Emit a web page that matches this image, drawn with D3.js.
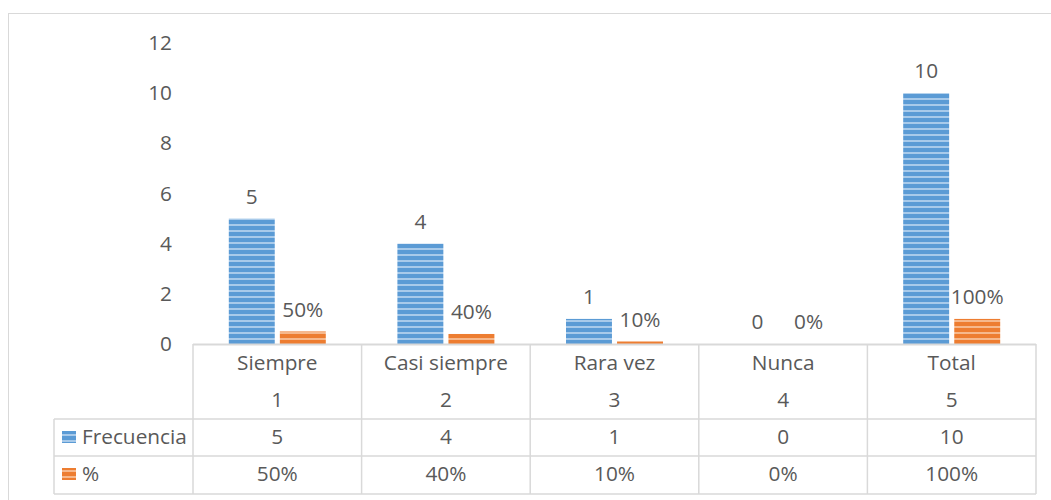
<!DOCTYPE html>
<html>
<head>
<meta charset="utf-8">
<script src="https://cdn.jsdelivr.net/npm/d3@7"></script>
<style>
    body { margin: 0; background: #fff; }
    svg text { font-family: "Open Sans", Lato, sans-serif; fill: #595959; }
</style>
</head>
<body>
<svg id="chart" width="1051" height="500"></svg>
<script>
"use strict";

// chart data
const categories = ["Siempre", "Casi siempre", "Rara vez", "Nunca", "Total"];
const indices = ["1", "2", "3", "4", "5"];
const frecuencia = [5, 4, 1, 0, 10];
const porcentaje = [0.5, 0.4, 0.1, 0, 1];
const porcentajeLabels = ["50%", "40%", "10%", "0%", "100%"];
const yTicks = [0, 2, 4, 6, 8, 10, 12];

(function () {
    const svg = d3.select("#chart");
    const fontSize = 20.8;
    const gridColor = "#d9d9d9";

    const plotLeft = 193, plotRight = 1036;
    const tableLeft = 54;
    const rowLines = [419, 456, 494];

    // striped fills like the original
    const defs = svg.append("defs");
    function stripes(id, dark, light) {
        const p = defs.append("pattern")
            .attr("id", id)
            .attr("patternUnits", "userSpaceOnUse")
            .attr("width", 6).attr("height", 6);
        p.append("rect").attr("width", 6).attr("height", 6).attr("fill", dark);
        p.append("rect").attr("y", 2).attr("width", 6).attr("height", 2).attr("fill", light);
    }
    stripes("blueStripes", "#5b9bd5", "#a8caea");
    stripes("orangeStripes", "#ed7d31", "#f6b88c");

    const series = [
        { name: "Frecuencia", values: frecuencia, labels: frecuencia.map(String), fill: "url(#blueStripes)" },
        { name: "%", values: porcentaje, labels: porcentajeLabels, fill: "url(#orangeStripes)" }
    ];

    // outer chart border (cut off by the picture on the right and bottom)
    svg.append("rect")
        .attr("x", 8.5).attr("y", 13.5)
        .attr("width", 1100).attr("height", 600)
        .attr("fill", "none")
        .attr("stroke", gridColor);

    const y = d3.scaleLinear().domain([0, 12]).range([344, 43]);
    const x0 = d3.scaleBand().domain(categories).range([plotLeft, plotRight]);
    const groupWidth = 97;
    const x1 = d3.scaleBand().domain(series.map(s => s.name))
        .range([0, groupWidth]).paddingInner(0.1);
    const groupStart = c => x0(c) + (x0.bandwidth() - groupWidth) / 2;

    // y axis labels
    const yAxis = svg.append("g")
        .attr("transform", "translate(172,0)")
        .call(d3.axisLeft(y).tickValues(yTicks).tickSize(0).tickPadding(0));
    yAxis.select(".domain").remove();
    yAxis.selectAll("text")
        .attr("font-size", fontSize)
        .attr("font-family", null)
        .attr("fill", null);

    // bars
    series.forEach(s => {
        const g = svg.append("g");
        g.selectAll("rect")
            .data(categories)
            .enter()
            .append("rect")
            .attr("x", c => groupStart(c) + x1(s.name))
            .attr("y", (c, i) => y(s.values[i]))
            .attr("width", x1.bandwidth())
            .attr("height", (c, i) => y(0) - y(s.values[i]))
            .attr("fill", s.fill);

        g.selectAll("text")
            .data(categories)
            .enter()
            .append("text")
            .attr("x", c => groupStart(c) + x1(s.name) + x1.bandwidth() / 2)
            .attr("y", (c, i) => y(s.values[i]) - 22)
            .attr("dy", "0.35em")
            .attr("text-anchor", "middle")
            .attr("font-size", fontSize)
            .text((c, i) => s.labels[i]);
    });

    // table lines
    const lines = svg.append("g")
        .attr("stroke", gridColor)
        .attr("stroke-width", 1.5)
        .attr("fill", "none");
    lines.append("line")
        .attr("x1", plotLeft).attr("x2", plotRight)
        .attr("y1", y(0) + 0.5).attr("y2", y(0) + 0.5)
        .attr("stroke-width", 2);
    rowLines.forEach(ry => {
        lines.append("line")
            .attr("x1", tableLeft).attr("x2", plotRight)
            .attr("y1", ry).attr("y2", ry);
    });
    lines.append("line")
        .attr("x1", tableLeft).attr("x2", tableLeft)
        .attr("y1", rowLines[0]).attr("y2", rowLines[2]);
    categories.concat([null]).forEach((c, i) => {
        const vx = c === null ? plotRight : x0(c);
        lines.append("line")
            .attr("x1", vx).attr("x2", vx)
            .attr("y1", y(0)).attr("y2", rowLines[2]);
    });

    // table text
    const cx = c => x0(c) + x0.bandwidth() / 2;
    const cell = (tx, ty, t, anchor) => svg.append("text")
        .attr("x", tx).attr("y", ty)
        .attr("dy", "0.35em")
        .attr("text-anchor", anchor || "middle")
        .attr("font-size", fontSize)
        .text(t);

    categories.forEach((c, i) => {
        cell(cx(c), 363, c);
        cell(cx(c), 400, indices[i]);
        cell(cx(c), 437, series[0].labels[i]);
        cell(cx(c), 474, series[1].labels[i]);
    });

    // legend keys in the table
    const rowMid = [437, 474];
    series.forEach((s, i) => {
        svg.append("rect")
            .attr("x", 62).attr("y", rowMid[i] - 6)
            .attr("width", 14).attr("height", 12)
            .attr("fill", s.fill);
        cell(82, rowMid[i], s.name, "start");
    });
})();
</script>
</body>
</html>
